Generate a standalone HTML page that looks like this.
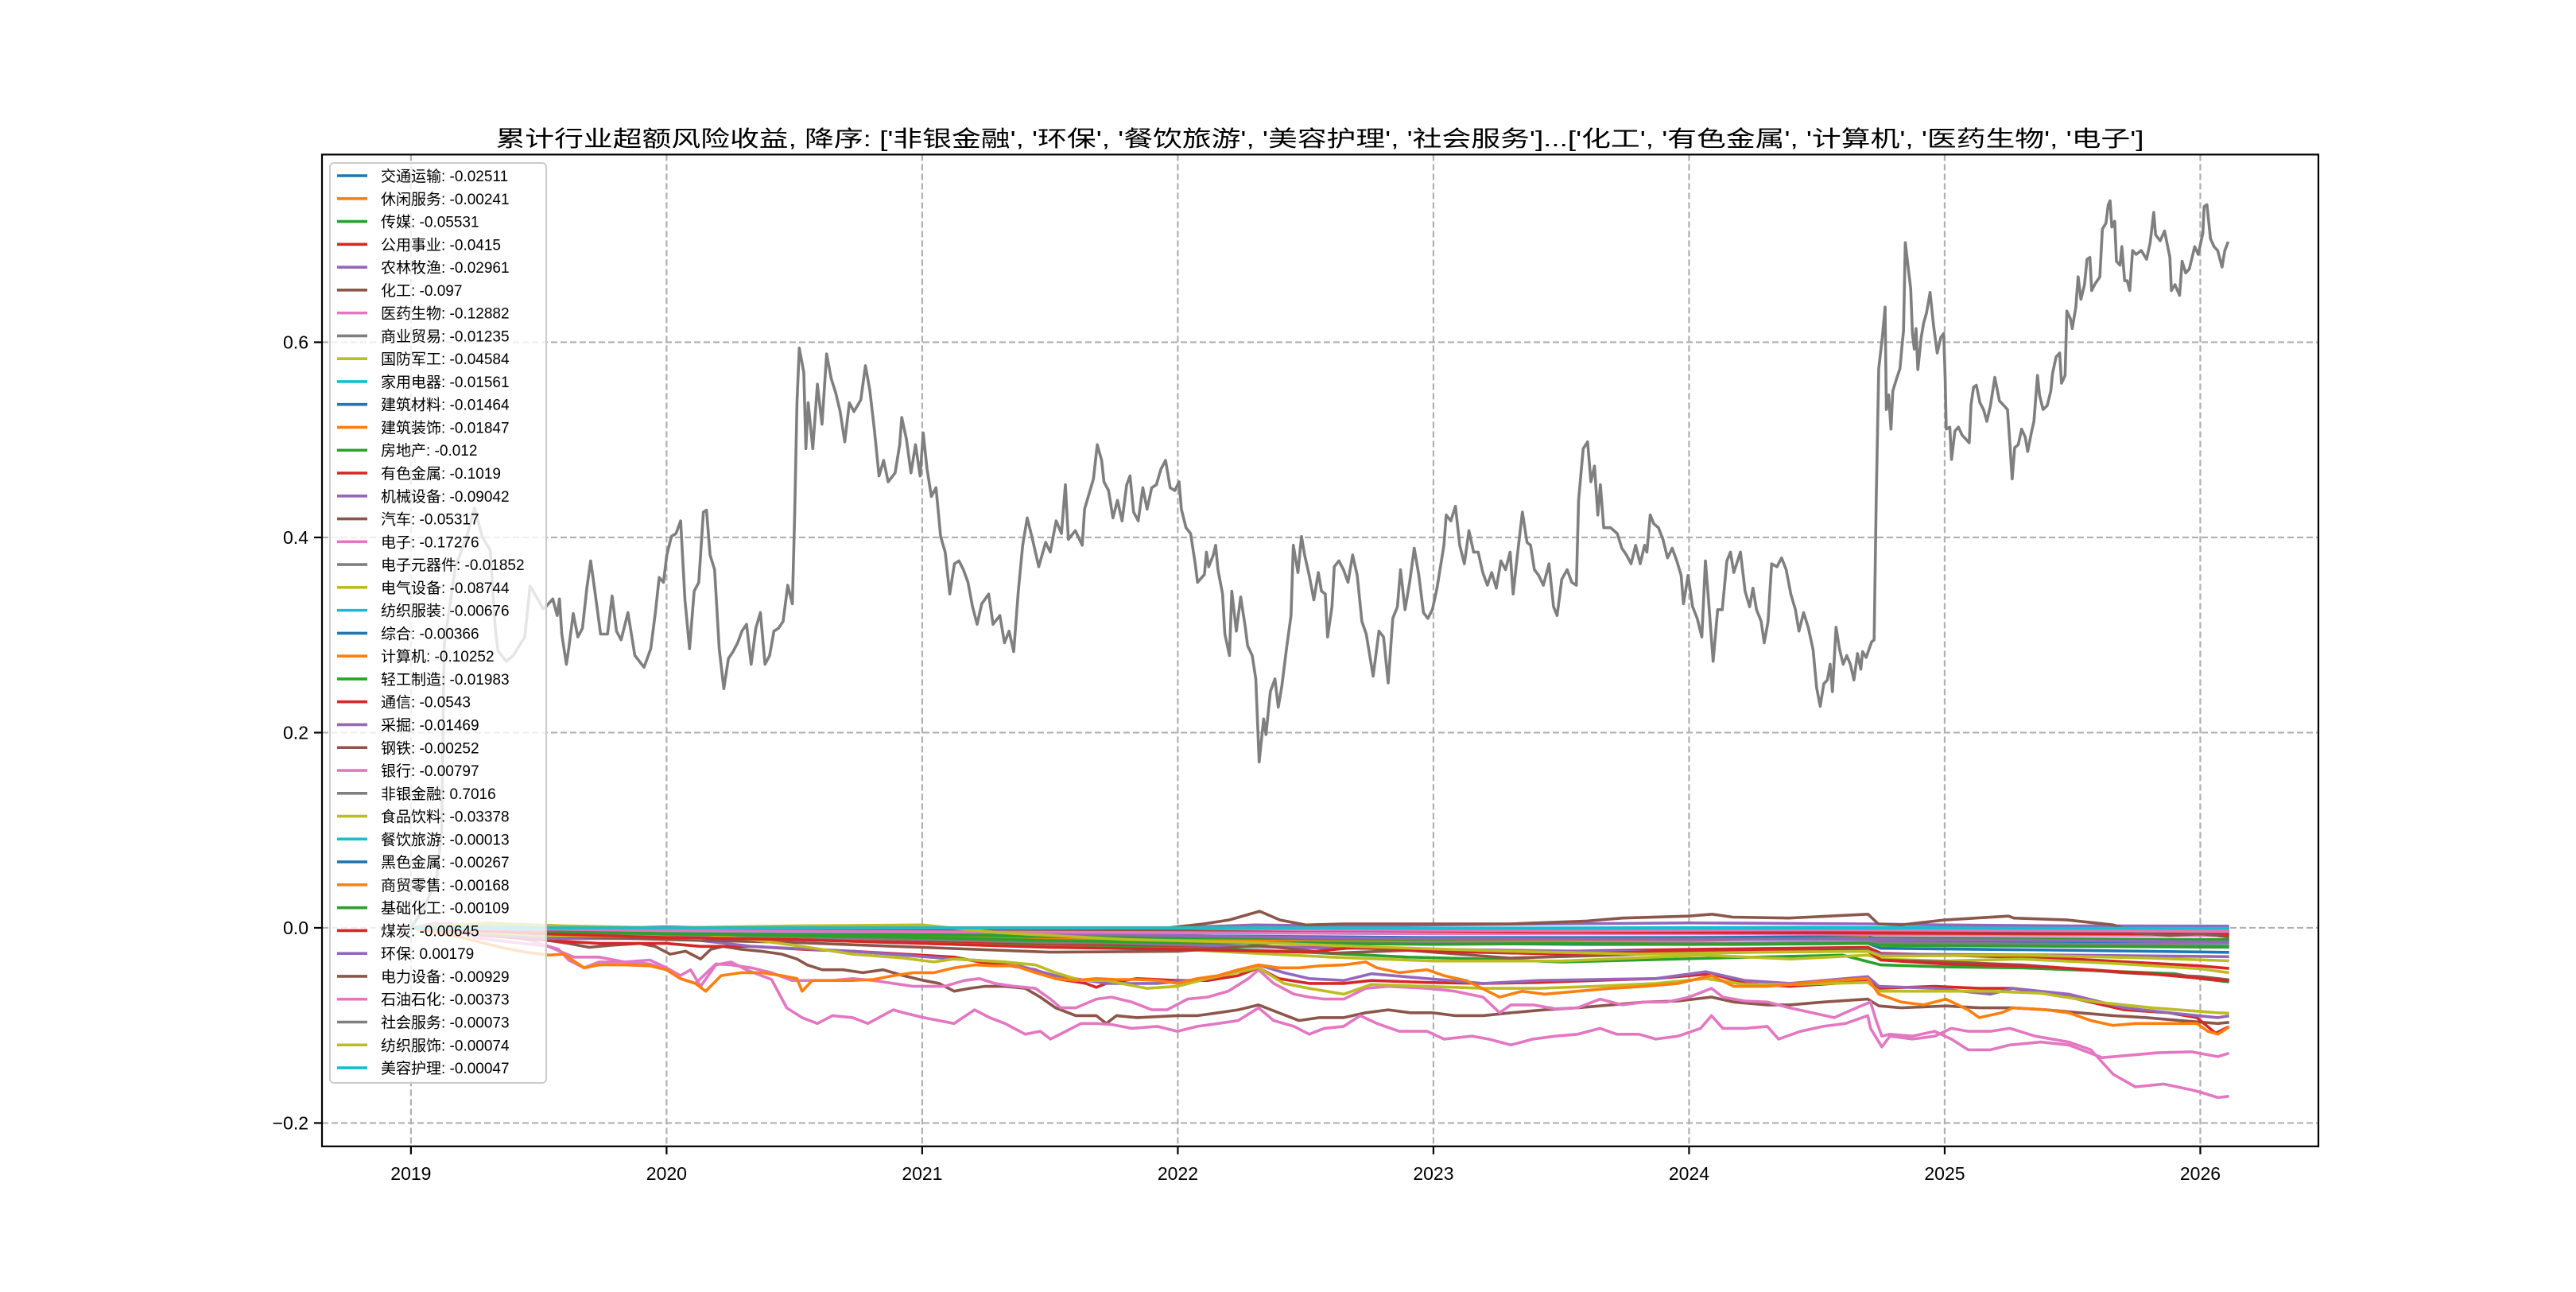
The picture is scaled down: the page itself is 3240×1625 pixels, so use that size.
<!DOCTYPE html>
<html>
<head>
<meta charset="utf-8">
<style>
  html,body{margin:0;padding:0;background:#fff;}
  body{width:3240px;height:1620px;overflow:hidden;}
  svg text{font-family:"Liberation Sans","Noto Sans CJK SC",sans-serif;}
</style>
</head>
<body>
<svg id="chart" width="3240" height="1620" viewBox="0 0 3240 1620" xmlns="http://www.w3.org/2000/svg">
  <rect x="0" y="0" width="3240" height="1620" fill="#ffffff"/>
  <g id="grid"></g>
  <g id="series"></g>
  <g id="axes"></g>
  <g id="legend"></g>
  <text id="title" x="1660" y="184" font-size="28" text-anchor="middle" textLength="2073" lengthAdjust="spacingAndGlyphs" fill="#000">累计行业超额风险收益,  降序: ['非银金融', '环保', '餐饮旅游', '美容护理', '社会服务']...['化工', '有色金属', '计算机', '医药生物', '电子']</text>
</svg>
<script>
// ---------- data ----------
const names = ["交通运输","休闲服务","传媒","公用事业","农林牧渔","化工","医药生物","商业贸易","国防军工","家用电器","建筑材料","建筑装饰","房地产","有色金属","机械设备","汽车","电子","电子元器件","电气设备","纺织服装","综合","计算机","轻工制造","通信","采掘","钢铁","银行","非银金融","食品饮料","餐饮旅游","黑色金属","商贸零售","基础化工","煤炭","环保","电力设备","石油石化","社会服务","纺织服饰","美容护理"];
const finals = ["-0.02511","-0.00241","-0.05531","-0.0415","-0.02961","-0.097","-0.12882","-0.01235","-0.04584","-0.01561","-0.01464","-0.01847","-0.012","-0.1019","-0.09042","-0.05317","-0.17276","-0.01852","-0.08744","-0.00676","-0.00366","-0.10252","-0.01983","-0.0543","-0.01469","-0.00252","-0.00797","0.7016","-0.03378","-0.00013","-0.00267","-0.00168","-0.00109","-0.00645","0.00179","-0.00929","-0.00373","-0.00073","-0.00074","-0.00047"];
const xTickYears = [2019,2020,2021,2022,2023,2024,2025,2026];
const yTickValues = [-0.2,0.0,0.2,0.4,0.6];
const yTickLabels = ["\u22120.2","0.0","0.2","0.4","0.6"];

const yr00=[2019,2019.5,2020,2020.6,2021.2,2021.8,2022.4,2023,2023.6,2024.2,2024.7,2024.75,2025.5,2026.107];
const val00=[0,-0.003,-0.005,-0.007,-0.009,-0.012,-0.014,-0.016,-0.017,-0.017,-0.016,-0.021,-0.023,-0.02511];
const yr01=[2019,2019.5,2020,2020.5,2021,2021.5,2022,2022.3,2023,2024,2024.7,2024.75,2025.5,2026.107];
const val01=[0,-0.004,-0.006,-0.004,-0.006,-0.008,-0.006,-0.004,-0.005,-0.004,-0.001,-0.003,-0.003,-0.00241];
const yr02=[2019,2019.3,2019.6,2020,2020.5,2021,2021.5,2022,2022.5,2022.9,2023.2,2023.5,2023.8,2024.1,2024.6,2024.75,2025,2025.3,2025.6,2025.9,2026,2026.107];
const val02=[0,0.004,-0.003,-0.006,-0.010,-0.014,-0.018,-0.020,-0.025,-0.030,-0.032,-0.035,-0.033,-0.031,-0.028,-0.038,-0.040,-0.041,-0.044,-0.047,-0.052,-0.0553];
const yr03=[2019,2019.5,2020,2020.5,2021,2021.5,2022,2022.5,2023,2023.5,2024,2024.7,2024.75,2025,2025.5,2026,2026.107];
const val03=[0,-0.006,-0.009,-0.012,-0.013,-0.016,-0.018,-0.020,-0.022,-0.024,-0.022,-0.020,-0.026,-0.028,-0.032,-0.039,-0.0415];
const yr04=[2019,2019.5,2020,2020.6,2021.2,2021.8,2022.4,2023,2023.6,2024.2,2024.7,2024.75,2025.5,2026.107];
const val04=[0,0.002,-0.002,-0.008,-0.010,-0.016,-0.020,-0.022,-0.024,-0.025,-0.024,-0.027,-0.028,-0.02961];
const yr05=[2019,2019.2,2019.4,2019.538,2019.617,2019.697,2019.776,2019.895,2019.955,2020.014,2020.074,2020.133,2020.173,2020.222,2020.292,2020.371,2020.451,2020.51,2020.55,2020.609,2020.689,2020.768,2020.847,2020.927,2021.006,2021.066,2021.125,2021.185,2021.244,2021.324,2021.403,2021.462,2021.522,2021.601,2021.681,2021.72,2021.76,2021.84,2021.919,2021.998,2022.077,2022.157,2022.236,2022.316,2022.395,2022.474,2022.554,2022.649,2022.735,2022.823,2022.91,2022.997,2023.084,2023.194,2023.303,2023.434,2023.564,2023.695,2023.826,2023.957,2024.088,2024.175,2024.306,2024.394,2024.525,2024.699,2024.743,2024.83,2025.005,2025.135,2025.266,2025.397,2025.528,2025.659,2025.79,2025.921,2026.069,2026.107];
const val05=[0,-0.005,-0.01,-0.013,-0.016,-0.02,-0.018,-0.016,-0.019,-0.027,-0.024,-0.032,-0.022,-0.019,-0.022,-0.024,-0.027,-0.032,-0.038,-0.043,-0.043,-0.046,-0.043,-0.049,-0.054,-0.057,-0.065,-0.062,-0.06,-0.06,-0.062,-0.071,-0.082,-0.09,-0.09,-0.098,-0.09,-0.092,-0.091,-0.09,-0.09,-0.087,-0.084,-0.079,-0.087,-0.095,-0.092,-0.092,-0.087,-0.084,-0.087,-0.087,-0.09,-0.09,-0.087,-0.084,-0.082,-0.079,-0.076,-0.075,-0.071,-0.076,-0.079,-0.079,-0.076,-0.073,-0.08,-0.082,-0.08,-0.082,-0.082,-0.084,-0.087,-0.09,-0.092,-0.095,-0.098,-0.097];
const yr06=[2019,2019.15,2019.3,2019.45,2019.538,2019.637,2019.736,2019.836,2019.935,2020,2020.054,2020.113,2020.193,2020.252,2020.332,2020.411,2020.49,2020.57,2020.649,2020.728,2020.808,2020.887,2020.966,2021.006,2021.086,2021.165,2021.224,2021.284,2021.363,2021.443,2021.502,2021.542,2021.601,2021.681,2021.74,2021.82,2021.899,2021.958,2022.038,2022.117,2022.197,2022.276,2022.316,2022.375,2022.454,2022.514,2022.573,2022.649,2022.735,2022.823,2022.975,2023.084,2023.194,2023.259,2023.303,2023.39,2023.477,2023.564,2023.652,2023.739,2023.826,2023.914,2024.001,2024.088,2024.132,2024.219,2024.306,2024.394,2024.481,2024.568,2024.655,2024.71,2024.732,2024.754,2024.786,2024.874,2024.961,2025.026,2025.092,2025.179,2025.255,2025.376,2025.485,2025.616,2025.703,2025.834,2025.965,2026.069,2026.107];
const val06=[0,0.005,-0.005,-0.012,-0.019,-0.03,-0.03,-0.035,-0.037,-0.043,-0.052,-0.057,-0.037,-0.038,-0.041,-0.046,-0.054,-0.054,-0.054,-0.052,-0.054,-0.057,-0.06,-0.06,-0.06,-0.054,-0.052,-0.057,-0.06,-0.062,-0.073,-0.082,-0.082,-0.073,-0.071,-0.076,-0.084,-0.084,-0.073,-0.071,-0.065,-0.052,-0.043,-0.057,-0.068,-0.071,-0.073,-0.073,-0.062,-0.06,-0.062,-0.065,-0.071,-0.087,-0.079,-0.079,-0.083,-0.082,-0.073,-0.079,-0.076,-0.076,-0.071,-0.062,-0.071,-0.075,-0.076,-0.082,-0.087,-0.092,-0.082,-0.076,-0.095,-0.111,-0.109,-0.111,-0.106,-0.114,-0.125,-0.125,-0.12,-0.117,-0.12,-0.133,-0.131,-0.128,-0.127,-0.132,-0.12882];
const yr07=[2019,2019.5,2020,2020.5,2021,2021.5,2022,2022.5,2023,2024,2024.7,2025.5,2026.107];
const val07=[0,-0.004,-0.008,-0.01,-0.012,-0.014,-0.013,-0.012,-0.011,-0.01,-0.01,-0.011,-0.01235];
const yr08=[2019,2019.3,2019.6,2020,2020.5,2021,2021.5,2022,2022.6,2023,2023.5,2024.05,2024.4,2024.7,2024.75,2025,2025.3,2025.7,2026,2026.107];
const val08=[0,0.004,-0.004,-0.008,-0.012,-0.016,-0.02,-0.022,-0.03,-0.034,-0.034,-0.028,-0.032,-0.028,-0.032,-0.034,-0.032,-0.037,-0.042,-0.04584];
const yr09=[2019,2019.5,2020,2020.5,2021,2021.5,2022,2022.5,2023,2024,2024.7,2025.3,2026.107];
const val09=[0,0.001,-0.002,-0.004,-0.003,-0.008,-0.011,-0.012,-0.013,-0.012,-0.012,-0.014,-0.01561];
const yr10=[2019,2019.5,2020,2020.5,2021,2021.5,2022,2022.5,2023,2024,2024.7,2024.75,2025.5,2026.107];
const val10=[0,-0.002,-0.004,-0.003,-0.004,-0.007,-0.008,-0.009,-0.01,-0.01,-0.009,-0.013,-0.014,-0.01464];
const yr11=[2019,2019.5,2020,2020.5,2021,2021.5,2022,2022.5,2023,2023.5,2024,2024.7,2024.75,2025.5,2026.107];
const val11=[0,-0.005,-0.007,-0.006,-0.009,-0.012,-0.013,-0.014,-0.015,-0.013,-0.013,-0.01,-0.016,-0.017,-0.01847];
const yr12=[2019,2019.5,2020,2020.5,2021,2021.5,2022,2022.5,2023,2024,2024.7,2025.5,2026.107];
const val12=[0,-0.003,-0.005,-0.006,-0.007,-0.009,-0.01,-0.011,-0.012,-0.011,-0.011,-0.012,-0.012];
const yr13=[2019,2019.3,2019.538,2019.736,2020,2020.133,2020.332,2020.53,2020.728,2020.927,2021.125,2021.224,2021.324,2021.443,2021.522,2021.641,2021.681,2021.72,2021.84,2021.998,2022.117,2022.236,2022.316,2022.395,2022.514,2022.649,2022.757,2022.975,2023.194,2023.412,2023.63,2023.87,2024.088,2024.219,2024.394,2024.568,2024.699,2024.743,2024.961,2025.135,2025.266,2025.485,2025.703,2025.877,2025.986,2026.06,2026.107];
const val13=[0,-0.008,-0.013,-0.016,-0.016,-0.019,-0.019,-0.022,-0.024,-0.027,-0.03,-0.035,-0.038,-0.043,-0.052,-0.057,-0.061,-0.057,-0.052,-0.054,-0.054,-0.049,-0.041,-0.052,-0.057,-0.057,-0.054,-0.056,-0.057,-0.056,-0.054,-0.052,-0.047,-0.057,-0.06,-0.057,-0.054,-0.062,-0.06,-0.062,-0.062,-0.071,-0.084,-0.087,-0.092,-0.108,-0.1019];
const yr14=[2019,2019.3,2019.538,2020,2020.133,2020.332,2020.728,2020.927,2021.125,2021.324,2021.522,2021.72,2021.919,2022.117,2022.316,2022.415,2022.514,2022.649,2022.757,2022.975,2023.194,2023.412,2023.63,2023.87,2024.066,2024.219,2024.394,2024.612,2024.699,2024.743,2024.961,2025.179,2025.266,2025.485,2025.703,2025.877,2026.069,2026.107];
const val14=[0,-0.007,-0.011,-0.011,-0.013,-0.019,-0.024,-0.028,-0.032,-0.035,-0.049,-0.057,-0.057,-0.052,-0.038,-0.046,-0.052,-0.054,-0.047,-0.052,-0.057,-0.054,-0.053,-0.052,-0.045,-0.054,-0.057,-0.052,-0.05,-0.06,-0.062,-0.068,-0.062,-0.068,-0.082,-0.087,-0.092,-0.09042];
const yr15=[2019,2019.5,2020,2020.5,2021,2021.5,2022,2022.32,2022.6,2022.9,2023.3,2023.7,2024.1,2024.7,2024.75,2025,2025.3,2025.7,2026,2026.107];
const val15=[0,-0.008,-0.012,-0.015,-0.02,-0.025,-0.024,-0.018,-0.026,-0.023,-0.031,-0.028,-0.024,-0.022,-0.033,-0.035,-0.038,-0.046,-0.05,-0.05317];
const yr16=[2019,2019.1,2019.25,2019.4,2019.538,2019.578,2019.617,2019.677,2019.736,2019.836,2019.935,2020,2020.054,2020.094,2020.133,2020.193,2020.252,2020.312,2020.371,2020.411,2020.47,2020.53,2020.59,2020.649,2020.728,2020.788,2020.887,2020.927,2021.006,2021.066,2021.125,2021.205,2021.264,2021.324,2021.403,2021.462,2021.502,2021.562,2021.621,2021.681,2021.74,2021.82,2021.919,2021.998,2022.077,2022.157,2022.236,2022.316,2022.375,2022.454,2022.514,2022.573,2022.649,2022.713,2022.779,2022.866,2022.975,2023.041,2023.15,2023.215,2023.303,2023.39,2023.477,2023.564,2023.652,2023.717,2023.804,2023.87,2023.957,2024.045,2024.088,2024.132,2024.219,2024.306,2024.35,2024.437,2024.525,2024.612,2024.699,2024.71,2024.754,2024.786,2024.874,2024.961,2025.026,2025.092,2025.179,2025.255,2025.354,2025.485,2025.572,2025.659,2025.746,2025.856,2025.965,2026.008,2026.069,2026.107];
const val16=[0,0.005,-0.01,-0.015,-0.019,-0.022,-0.033,-0.041,-0.035,-0.035,-0.033,-0.041,-0.049,-0.043,-0.06,-0.038,-0.035,-0.043,-0.049,-0.053,-0.082,-0.092,-0.098,-0.09,-0.092,-0.098,-0.084,-0.087,-0.092,-0.095,-0.098,-0.084,-0.092,-0.098,-0.109,-0.106,-0.114,-0.106,-0.098,-0.098,-0.099,-0.103,-0.101,-0.106,-0.101,-0.098,-0.095,-0.082,-0.095,-0.101,-0.109,-0.103,-0.101,-0.09,-0.098,-0.106,-0.106,-0.114,-0.111,-0.114,-0.12,-0.114,-0.111,-0.109,-0.103,-0.109,-0.109,-0.114,-0.111,-0.103,-0.09,-0.103,-0.103,-0.101,-0.114,-0.106,-0.101,-0.098,-0.09,-0.103,-0.122,-0.111,-0.114,-0.111,-0.103,-0.106,-0.106,-0.103,-0.111,-0.117,-0.125,-0.15,-0.163,-0.16,-0.166,-0.169,-0.174,-0.17276];
const yr17=[2019,2019.5,2020,2020.5,2021,2021.5,2022,2022.5,2023,2024,2024.7,2025.5,2026.107];
const val17=[0,-0.004,-0.007,-0.009,-0.012,-0.015,-0.016,-0.015,-0.016,-0.016,-0.015,-0.017,-0.01852];
const yr18=[2019,2019.3,2019.538,2019.935,2020.133,2020.213,2020.332,2020.53,2020.728,2020.927,2021.046,2021.125,2021.324,2021.443,2021.522,2021.621,2021.72,2021.879,2021.998,2022.117,2022.316,2022.415,2022.514,2022.649,2022.757,2022.975,2023.194,2023.412,2023.63,2023.87,2024.066,2024.219,2024.394,2024.699,2024.743,2024.961,2025.179,2025.376,2025.594,2025.812,2026.069,2026.107];
const val18=[0,-0.005,-0.008,-0.009,-0.011,-0.009,-0.012,-0.019,-0.027,-0.031,-0.035,-0.032,-0.035,-0.038,-0.046,-0.054,-0.054,-0.062,-0.06,-0.052,-0.041,-0.057,-0.062,-0.068,-0.058,-0.06,-0.062,-0.062,-0.06,-0.057,-0.052,-0.058,-0.058,-0.056,-0.065,-0.065,-0.065,-0.067,-0.076,-0.082,-0.087,-0.08744];
const yr19=[2019,2019.5,2020,2020.5,2021,2021.5,2022,2023,2024,2025,2026.107];
const val19=[0,-0.002,-0.003,-0.004,-0.004,-0.005,-0.005,-0.006,-0.006,-0.006,-0.00676];
const yr20=[2019,2020,2021,2022,2023,2024,2025,2026.107];
const val20=[0,-0.002,-0.003,-0.003,-0.004,-0.003,-0.004,-0.00366];
const yr21=[2019,2019.2,2019.35,2019.45,2019.538,2019.598,2019.677,2019.736,2019.836,2019.935,2020,2020.054,2020.113,2020.153,2020.213,2020.292,2020.371,2020.451,2020.51,2020.53,2020.57,2020.649,2020.728,2020.808,2020.887,2020.966,2021.046,2021.125,2021.205,2021.284,2021.363,2021.443,2021.522,2021.601,2021.681,2021.76,2021.84,2021.919,2021.998,2022.077,2022.157,2022.236,2022.316,2022.395,2022.474,2022.554,2022.649,2022.735,2022.779,2022.866,2022.975,2023.041,2023.128,2023.259,2023.346,2023.434,2023.564,2023.695,2023.826,2023.957,2024.088,2024.175,2024.306,2024.437,2024.568,2024.699,2024.743,2024.83,2024.917,2025.005,2025.092,2025.135,2025.223,2025.266,2025.397,2025.485,2025.572,2025.659,2025.746,2025.877,2025.986,2026.03,2026.069,2026.107];
const val21=[0,-0.01,-0.02,-0.025,-0.028,-0.027,-0.041,-0.038,-0.038,-0.039,-0.043,-0.052,-0.057,-0.065,-0.049,-0.046,-0.046,-0.049,-0.052,-0.065,-0.054,-0.054,-0.054,-0.053,-0.049,-0.046,-0.046,-0.041,-0.038,-0.039,-0.039,-0.046,-0.052,-0.054,-0.052,-0.053,-0.053,-0.054,-0.057,-0.052,-0.049,-0.043,-0.038,-0.041,-0.041,-0.039,-0.038,-0.035,-0.041,-0.046,-0.043,-0.049,-0.054,-0.071,-0.065,-0.068,-0.065,-0.062,-0.06,-0.057,-0.049,-0.06,-0.06,-0.057,-0.054,-0.052,-0.068,-0.076,-0.079,-0.073,-0.084,-0.092,-0.087,-0.082,-0.084,-0.087,-0.095,-0.1,-0.098,-0.098,-0.098,-0.106,-0.109,-0.10252];
const yr22=[2019,2019.5,2020,2020.5,2021,2021.5,2022,2022.5,2023,2023.5,2024,2024.7,2024.75,2025.5,2026.107];
const val22=[0,-0.004,-0.006,-0.008,-0.01,-0.013,-0.015,-0.016,-0.017,-0.016,-0.017,-0.016,-0.018,-0.019,-0.01983];
const yr23=[2019,2019.5,2020,2020.5,2021,2021.5,2022,2022.5,2022.7,2023,2023.5,2023.8,2024.1,2024.7,2024.75,2025,2025.4,2025.8,2026.107];
const val23=[0,-0.006,-0.01,-0.012,-0.016,-0.02,-0.022,-0.025,-0.02,-0.024,-0.027,-0.025,-0.022,-0.024,-0.033,-0.037,-0.04,-0.047,-0.0543];
const yr24=[2019,2019.5,2020,2020.5,2021,2021.5,2022,2022.5,2023,2024,2024.7,2025.5,2026.107];
const val24=[0,-0.002,0.001,-0.002,-0.004,-0.006,-0.008,-0.01,-0.011,-0.012,-0.012,-0.013,-0.01469];
const yr25=[2019,2020,2021,2022,2023,2024,2025,2026.107];
const val25=[0,-0.001,-0.002,-0.002,-0.003,-0.002,-0.002,-0.00252];
const yr26=[2019,2019.5,2020,2021,2022,2023,2024,2025,2026.107];
const val26=[0,-0.001,-0.003,-0.004,-0.005,-0.006,-0.006,-0.007,-0.00797];
const yr27=[2019,2019.05,2019.1,2019.12,2019.13,2019.174,2019.217,2019.249,2019.28,2019.31,2019.33,2019.34,2019.373,2019.4,2019.445,2019.466,2019.498,2019.517,
2019.528,2019.555,2019.572,2019.581,2019.59,2019.608,2019.617,2019.635,2019.653,2019.671,2019.688,2019.703,2019.721,2019.742,2019.769,2019.787,2019.804,2019.822,2019.849,2019.876,2019.912,2019.938,2019.956,2019.971,2019.988,
2020.001,2020.019,2020.037,2020.055,2020.072,2020.09,2020.108,2020.126,2020.144,2020.156,2020.17,2020.188,2020.206,2020.224,2020.242,2020.26,2020.278,2020.295,2020.313,2020.331,2020.349,2020.367,2020.385,2020.403,2020.42,2020.438,2020.456,2020.474,2020.492,2020.501,2020.51,2020.519,2020.537,2020.545,2020.554,2020.572,2020.59,2020.608,2020.626,2020.644,2020.662,2020.679,2020.697,2020.715,2020.733,2020.76,2020.778,2020.795,2020.813,2020.831,2020.849,2020.867,2020.894,2020.912,2020.92,2020.938,2020.956,2020.974,2020.992,
2021.004,2021.019,2021.036,2021.054,2021.072,2021.09,2021.108,2021.126,2021.144,2021.161,2021.179,2021.197,2021.215,2021.233,2021.26,2021.277,2021.304,2021.322,2021.34,2021.358,2021.376,2021.393,2021.411,2021.429,2021.456,2021.483,2021.501,2021.524,2021.545,2021.56,2021.572,2021.599,2021.626,2021.635,2021.653,2021.67,2021.685,
2021.702,2021.711,2021.729,2021.746,2021.764,2021.782,2021.8,2021.813,2021.827,2021.845,2021.863,2021.88,2021.898,2021.916,2021.934,2021.952,2021.97,2021.988,
2022.005,2022.014,2022.032,2022.05,2022.068,2022.077,2022.104,2022.112,2022.121,2022.139,2022.148,2022.157,2022.175,2022.184,2022.202,2022.211,2022.229,2022.246,2022.264,2022.273,2022.291,2022.305,2022.318,2022.336,2022.345,2022.362,2022.38,2022.393,2022.407,2022.425,2022.443,2022.452,2022.47,2022.484,2022.496,2022.514,2022.532,2022.55,2022.562,2022.577,2022.586,2022.603,2022.612,2022.63,2022.648,2022.666,2022.684,2022.702,2022.72,2022.737,2022.764,2022.787,2022.805,2022.823,2022.841,2022.859,2022.871,2022.889,2022.907,2022.925,2022.943,2022.961,2022.978,2022.996,
2023.014,2023.041,2023.05,2023.068,2023.086,2023.103,2023.121,2023.139,2023.157,2023.175,2023.193,2023.211,2023.228,2023.246,2023.264,2023.282,2023.3,2023.312,2023.327,2023.348,2023.366,2023.38,2023.395,2023.412,2023.43,2023.452,2023.47,2023.484,2023.502,2023.523,2023.541,2023.559,2023.568,2023.586,2023.603,2023.616,2023.63,2023.643,2023.653,2023.666,2023.693,2023.719,2023.737,2023.755,2023.773,2023.791,2023.809,2023.826,2023.835,2023.848,2023.862,2023.88,2023.898,2023.916,2023.934,2023.952,2023.969,2023.978,2023.996,
2024.014,2024.032,2024.05,2024.064,2024.076,2024.094,2024.112,2024.13,2024.148,2024.162,2024.175,2024.201,2024.219,2024.237,2024.25,2024.264,2024.282,2024.294,2024.309,2024.323,2024.344,2024.362,2024.38,2024.398,2024.416,2024.43,2024.448,2024.466,2024.485,2024.499,2024.513,2024.527,2024.541,2024.552,2024.561,2024.575,2024.589,2024.603,2024.617,2024.631,2024.645,2024.659,2024.672,2024.679,2024.693,2024.714,2024.724,2024.732,2024.742,2024.756,2024.767,2024.772,2024.781,2024.79,2024.797,2024.811,2024.825,2024.832,2024.839,2024.846,2024.856,2024.867,2024.874,2024.881,2024.888,2024.895,2024.908,2024.918,2024.929,2024.943,2024.957,2024.971,2024.985,2024.996,
2025.002,2025.006,2025.02,2025.027,2025.04,2025.054,2025.068,2025.096,2025.103,2025.113,2025.124,2025.138,2025.152,2025.165,2025.179,2025.196,2025.214,2025.232,2025.246,2025.256,2025.264,2025.274,2025.288,2025.301,2025.315,2025.325,2025.339,2025.349,2025.363,2025.371,2025.385,2025.401,2025.415,2025.422,2025.436,2025.45,2025.457,2025.471,2025.478,2025.492,2025.499,2025.513,2025.522,2025.533,2025.547,2025.557,2025.568,2025.575,2025.589,2025.607,2025.617,2025.631,2025.64,2025.647,2025.654,2025.665,2025.672,2025.686,2025.693,2025.704,2025.714,2025.724,2025.735,2025.749,2025.769,2025.79,2025.804,2025.818,2025.825,2025.843,2025.86,2025.881,2025.887,2025.901,2025.919,2025.929,2025.943,2025.957,2025.978,2025.992,2026.01,2026.015,2026.026,2026.04,2026.054,2026.068,2026.085,2026.096,2026.107];
const val27=[0,0.02,0.05,0.1,0.29,0.37,0.4,0.43,0.4,0.387,0.307,0.284,0.273,0.279,0.298,0.35,0.336,0.327,
0.329,0.337,0.32,0.337,0.301,0.27,0.286,0.322,0.298,0.307,0.348,0.376,0.342,0.301,0.301,0.34,0.304,0.295,0.323,0.279,0.267,0.286,0.323,0.359,0.354,
0.382,0.401,0.404,0.417,0.336,0.286,0.345,0.354,0.426,0.428,0.382,0.367,0.286,0.245,0.276,0.283,0.292,0.304,0.311,0.27,0.307,0.323,0.27,0.279,0.304,0.307,0.314,0.351,0.332,0.423,0.538,0.594,0.569,0.491,0.538,0.491,0.557,0.516,0.588,0.563,0.548,0.529,0.498,0.538,0.529,0.541,0.576,0.551,0.51,0.463,0.479,0.457,0.466,0.495,0.523,0.501,0.466,0.495,0.463,
0.507,0.47,0.442,0.451,0.401,0.385,0.342,0.373,0.376,0.367,0.354,0.329,0.311,0.332,0.342,0.311,0.32,0.292,0.304,0.283,0.345,0.392,0.42,0.401,0.37,0.395,0.385,0.417,0.404,0.454,0.398,0.407,0.392,0.429,0.445,0.46,0.495,
0.479,0.457,0.448,0.42,0.438,0.417,0.454,0.463,0.426,0.417,0.451,0.429,0.451,0.454,0.47,0.479,0.451,0.448,
0.457,0.429,0.41,0.404,0.373,0.354,0.362,0.385,0.37,0.382,0.392,0.367,0.342,0.301,0.279,0.345,0.304,0.339,0.308,0.289,0.279,0.255,0.17,0.214,0.198,0.242,0.255,0.226,0.248,0.286,0.32,0.392,0.364,0.401,0.382,0.361,0.336,0.364,0.345,0.342,0.298,0.329,0.37,0.376,0.367,0.354,0.382,0.361,0.314,0.301,0.258,0.304,0.298,0.251,0.317,0.329,0.367,0.326,0.354,0.389,0.361,0.323,0.317,0.326,
0.348,0.392,0.423,0.417,0.432,0.392,0.373,0.407,0.385,0.385,0.364,0.351,0.364,0.348,0.376,0.367,0.385,0.342,0.379,0.426,0.395,0.392,0.367,0.361,0.351,0.373,0.329,0.32,0.357,0.367,0.354,0.351,0.438,0.491,0.498,0.457,0.473,0.423,0.454,0.41,0.41,0.404,0.389,0.382,0.373,0.392,0.373,0.392,0.385,0.423,0.414,0.41,0.398,0.379,0.389,0.376,0.361,0.332,0.361,
0.329,0.317,0.298,0.376,0.336,0.273,0.326,0.326,0.376,0.385,0.364,0.385,0.345,0.329,0.348,0.326,0.314,0.292,0.314,0.373,0.37,0.379,0.367,0.342,0.326,0.304,0.323,0.308,0.285,0.246,0.227,0.25,0.254,0.27,0.242,0.308,0.285,0.27,0.279,0.27,0.254,0.281,0.265,0.283,0.277,0.293,0.295,0.437,0.573,0.605,0.636,0.531,0.546,0.511,0.55,0.562,0.573,0.593,0.612,0.702,0.679,0.655,0.609,0.593,0.614,0.572,0.605,0.62,0.63,0.651,0.616,0.589,0.605,0.609,
0.562,0.511,0.513,0.48,0.509,0.513,0.505,0.497,0.536,0.554,0.556,0.538,0.531,0.519,0.535,0.564,0.54,0.535,0.531,0.492,0.46,0.492,0.495,0.511,0.503,0.488,0.507,0.519,0.566,0.546,0.531,0.535,0.55,0.568,0.585,0.589,0.558,0.566,0.632,0.624,0.614,0.636,0.667,0.644,0.659,0.685,0.687,0.653,0.66,0.667,0.716,0.722,0.741,0.745,0.718,0.724,0.683,0.679,0.698,0.663,0.663,0.653,0.694,0.69,0.694,0.685,0.702,0.733,0.71,0.704,0.714,0.687,0.653,0.659,0.648,0.683,0.671,0.675,0.698,0.69,0.712,0.739,0.741,0.706,0.698,0.694,0.677,0.694,0.7016];
const yr28=[2019,2019.3,2019.6,2020,2020.5,2021,2021.3,2021.8,2022.3,2022.8,2023.3,2023.8,2024.3,2024.7,2024.75,2025.3,2025.8,2026.107];
const val28=[0,0.005,0.002,0,0.002,0.003,-0.005,-0.012,-0.015,-0.02,-0.024,-0.027,-0.025,-0.024,-0.029,-0.028,-0.031,-0.03378];
const yr29=[2019,2021.96,2023,2024.5,2026.107];
const val29=[0,0,-0.0005,0.0005,-0.00013];
const yr30=[2019,2021.96,2022.5,2023.5,2024.5,2025.5,2026.107];
const val30=[0,0,-0.001,-0.002,-0.002,-0.0025,-0.00267];
const yr31=[2019,2021.96,2023,2024.5,2026.107];
const val31=[0,0,-0.001,-0.001,-0.00168];
const yr32=[2019,2021.96,2023,2024.5,2026.107];
const val32=[0,0,-0.0006,-0.0008,-0.00109];
const yr33=[2019,2021.96,2022.5,2023.3,2024.3,2025.3,2026.107];
const val33=[0,0,-0.002,-0.004,-0.005,-0.006,-0.00645];
const yr34=[2019,2021.96,2022.3,2022.6,2023.5,2024,2024.7,2025,2025.5,2026.107];
const val34=[0,0,0.003,0.002,0.004,0.005,0.004,0.003,0.002,0.00179];
const yr35=[2019,2021.96,2022.1,2022.2,2022.32,2022.4,2022.5,2022.648,2023.3,2023.6,2023.74,2024,2024.09,2024.17,2024.39,2024.7,2024.74,2024.83,2025,2025.25,2025.27,2025.48,2025.66,2025.75,2025.88,2026,2026.069,2026.107];
const val35=[0,0,0.004,0.008,0.017,0.008,0.003,0.004,0.004,0.007,0.01,0.012,0.014,0.011,0.01,0.014,0.004,0.003,0.008,0.012,0.01,0.008,0.003,-0.005,-0.008,-0.006,-0.008,-0.00929];
const yr36=[2019,2021.96,2022.5,2023.5,2024.5,2025.5,2026.107];
const val36=[0,0,-0.002,-0.003,-0.002,-0.003,-0.00373];
const yr37=[2019,2021.96,2023,2024.5,2026.107];
const val37=[0,0,-0.0004,-0.0006,-0.00073];
const yr38=[2019,2021.96,2023,2024.5,2026.107];
const val38=[0,0,-0.0003,-0.0005,-0.00074];
const yr39=[2019,2021.96,2023,2024.5,2026.107];
const val39=[0,0,-0.0002,-0.0003,-0.00047];

const seriesYears=[yr00,yr01,yr02,yr03,yr04,yr05,yr06,yr07,yr08,yr09,yr10,yr11,yr12,yr13,yr14,yr15,yr16,yr17,yr18,yr19,yr20,yr21,yr22,yr23,yr24,yr25,yr26,yr27,yr28,yr29,yr30,yr31,yr32,yr33,yr34,yr35,yr36,yr37,yr38,yr39];
const seriesVals=[val00,val01,val02,val03,val04,val05,val06,val07,val08,val09,val10,val11,val12,val13,val14,val15,val16,val17,val18,val19,val20,val21,val22,val23,val24,val25,val26,val27,val28,val29,val30,val31,val32,val33,val34,val35,val36,val37,val38,val39];
const palette=["#1f77b4","#ff7f0e","#2ca02c","#d62728","#9467bd","#8c564b","#e377c2","#7f7f7f","#bcbd22","#17becf"];

// ---------- axes geometry ----------
const AX = {left:405, right:2916, top:194.4, bottom:1441.8};
const X_MIN = 2018.652, X_MAX = 2026.462;
const Y_MIN = -0.2239, Y_MAX = 0.7923;
function xScale(yr){ return AX.left + (yr - X_MIN) / (X_MAX - X_MIN) * (AX.right - AX.left); }
function yScale(v){ return AX.bottom - (v - Y_MIN) / (Y_MAX - Y_MIN) * (AX.bottom - AX.top); }

const NS = "http://www.w3.org/2000/svg";
function mk(tag, attrs, parent){
  const el = document.createElementNS(NS, tag);
  for (const k in attrs) el.setAttribute(k, attrs[k]);
  parent.appendChild(el);
  return el;
}

// grid
const grid = document.getElementById('grid');
xTickYears.forEach(function(yr){
  const x = xScale(yr);
  const g = mk('line', {x1:x, x2:x, y1:AX.top, y2:AX.bottom, stroke:'#b0b0b0', 'stroke-width':2.2, 'stroke-dasharray':'8,4'}, grid);
  
  
});
yTickValues.forEach(function(v, i){
  const y = yScale(v);
  const g = mk('line', {x1:AX.left, x2:AX.right, y1:y, y2:y, stroke:'#b0b0b0', 'stroke-width':2.2, 'stroke-dasharray':'8,4'}, grid);
  
  
});

// series
const sg = document.getElementById('series');
seriesVals.forEach(function(vals, i){
  const yrs = seriesYears[i];
  let d = '';
  for (let k = 0; k < vals.length; k++){
    d += (k ? 'L' : 'M') + xScale(yrs[k]).toFixed(1) + ',' + yScale(vals[k]).toFixed(1);
  }
  const p = mk('path', {d:d, fill:'none', stroke:palette[i % 10], 'stroke-width':3.6, 'stroke-linejoin':'round', 'stroke-linecap':'square'}, sg);
  
  
});

// axes frame + ticks
const ax = document.getElementById('axes');
const frame = mk('rect', {x:AX.left, y:AX.top, width:AX.right-AX.left, height:AX.bottom-AX.top, fill:'none', stroke:'#000', 'stroke-width':2.2}, ax);


xTickYears.forEach(function(yr){
  const x = xScale(yr);
  const t = mk('line', {x1:x, x2:x, y1:AX.bottom, y2:AX.bottom+10, stroke:'#000', 'stroke-width':2.2}, ax);
  
  
  const lb = mk('text', {x:x, y:AX.bottom+42, 'font-size':23, 'text-anchor':'middle', fill:'#000'}, ax);
  lb.textContent = String(yr);
  
  
});
yTickValues.forEach(function(v, i){
  const y = yScale(v);
  const t = mk('line', {x1:AX.left-10, x2:AX.left, y1:y, y2:y, stroke:'#000', 'stroke-width':2.2}, ax);
  
  
  const lb = mk('text', {x:AX.left-17, y:y+8, 'font-size':23, 'text-anchor':'end', fill:'#000'}, ax);
  lb.textContent = yTickLabels[i];
  
  
});

// legend
const lg = document.getElementById('legend');
const LG = {x:415, y:205, w:272, h:1157, row0:221, step:28.77};
const box = mk('rect', {x:LG.x, y:LG.y, width:LG.w, height:LG.h, rx:5, ry:5, fill:'#ffffff', 'fill-opacity':0.8, stroke:'#cccccc', 'stroke-width':2}, lg);


names.forEach(function(n, i){
  const cy = LG.row0 + i * LG.step;
  const entry = mk('g', {}, lg);
  
  
  const ln = mk('line', {x1:424, x2:462, y1:cy, y2:cy, stroke:palette[i % 10], 'stroke-width':3.6}, entry);
  
  
  const tx = mk('text', {x:479, y:cy+7, 'font-size':19, fill:'#000'}, entry);
  tx.textContent = n + ': ' + finals[i];
  
  
});
</script>
</body>
</html>
